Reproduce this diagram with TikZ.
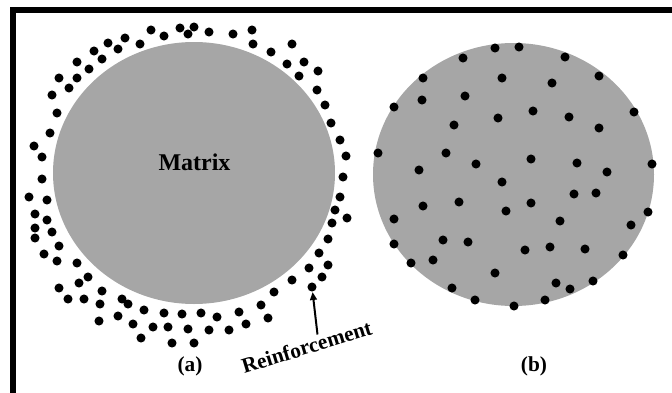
\documentclass[tikz,border=0pt]{standalone}
\usepackage{fontspec}
\setmainfont{Liberation Serif}
\usetikzlibrary{arrows.meta}
\tikzset{every picture/.style={line width=0.75pt}}
\definecolor{matrixgray}{RGB}{166,166,166}
\tikzset{
  particle/.style={circle, fill=black, inner sep=0pt, minimum size=6.8pt},
  caption/.style={inner sep=0.75pt, font=\fontsize{16}{19}\selectfont\bfseries},
}

\begin{document}
\begin{tikzpicture}[x=0.75pt,y=0.75pt,yscale=-1,xscale=1]
\useasboundingbox (0,0) rectangle (672,393);

%Shape: Frame
\draw [line width=4.3pt, line join=miter] (672,10) -- (12.7,10) -- (12.7,393) ;

%Shape: Ellipse (a)
\fill [matrixgray] (194,173) ellipse [x radius=141, y radius=131] ;
%Shape: Ellipse (b)
\fill [matrixgray] (513.5,174.5) ellipse [x radius=140.5, y radius=131.5] ;

% particles round the matrix (a)
\foreach \px/\py [count=\i] in {151/30,164/36,180/28,188/34,194/27,209/32,233/34,252/30,253/44,271/52,
  292/44,287/64,304/62,318/71,299/76,317/90,325/105,331/123,125/38,108/43,118/49,140/44,94/51,102/59,
  77/62,89/69,59/78,77/78,69/88,52/95,57/113,50/133,34/146,42/157,42/179,29/197,47/200,
  340/140,346/156,343/177,340/197,335/210,347/218,332/223,328/239,319/253,328/265,309/268,322/277,
  292/280,35/214,47/220,35/228,52/232,35/238,59/246,44/254,57/261,77/263,88/277,79/283,59/288,
  102/291,68/299,84/299,100/304,122/299,128/304,144/310,164/313,182/314,201/313,217/317,239/312,
  261/305,268/318,246/324,229/330,209/330,188/329,168/327,153/327,133/324,118/316,99/321,141/338,
  172/343,194/343,274/292}
  \node [particle] (pa\i) at (\px,\py) {};
\node [particle] (target) at (312,287) {};

% particles inside the matrix (b)
\foreach \px/\py [count=\i] in {495/48,519/47,463/58,565/57,423/78,502/78,552/83,599/76,422/100,465/96,
  394/107,533/111,498/118,569/117,634/112,454/125,599/128,378/153,446/153,476/164,531/159,577/163,
  652/164,419/170,607/172,502/182,574/194,596/193,423/206,459/202,506/211,531/203,648/212,560/221,
  631/225,394/219,443/240,468/242,394/244,525/250,550/247,585/249,623/255,433/260,411/263,495/273,
  556/283,570/289,593/281,452/288,475/300,514/306,545/300}
  \node [particle] (pb\i) at (\px,\py) {};

% Text Node
\node [caption, font=\fontsize{18}{21}\selectfont\bfseries] (matrix) at (194.5,162) {Matrix};
% Text Node
\node [caption] (capa) at (190,366) {(a)};
% Text Node
\node [caption] (capb) at (534,366) {(b)};
% Text Node
\node [caption, anchor=base west, rotate=17] (reinf) at (243,374) {Reinforcement};

%Straight Lines
\coordinate (tail) at (317.5,334.5);
\draw [line width=1.5pt, -{Triangle[length=6pt, width=5pt]}] (tail) -- (target) ;

\end{tikzpicture}
\end{document}
